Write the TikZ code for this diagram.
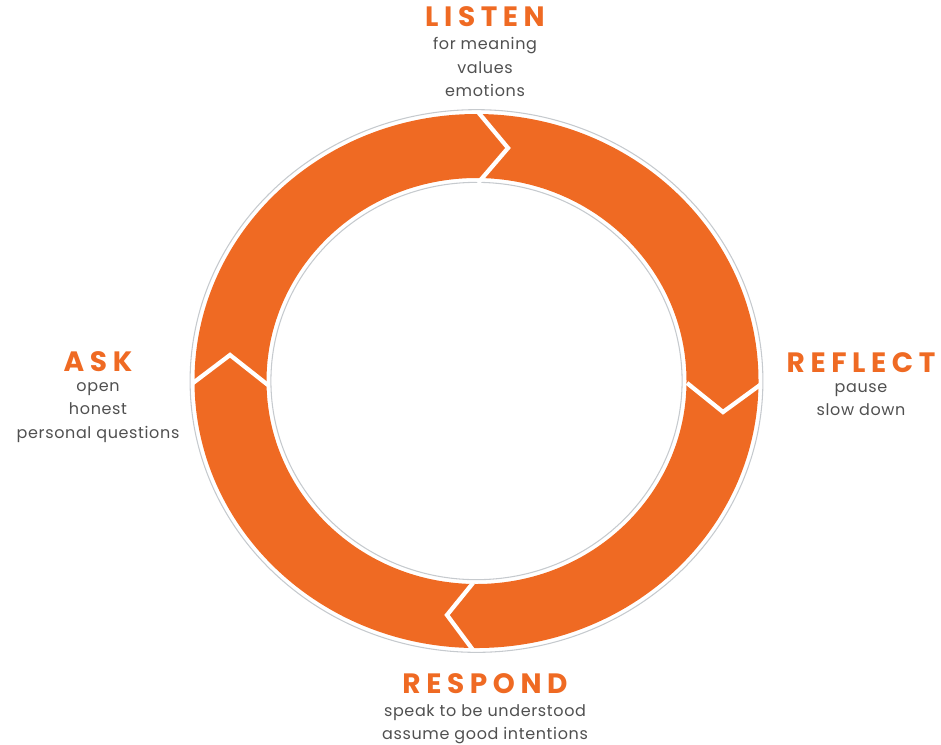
\documentclass[tikz,border=0pt]{standalone}
\usepackage{fontspec}
\setmainfont{Poppins}
\usetikzlibrary{positioning}

\definecolor{ringorange}{HTML}{EF6A23}
\definecolor{notegray}{HTML}{505050}
\definecolor{rimgray}{HTML}{C6CACE}

\begin{document}
\begin{tikzpicture}[x=0.75pt, y=-0.75pt, node distance=7.5pt,
  stage/.style={font=\fontsize{21}{21}\selectfont\bfseries\addfontfeatures{LetterSpace=20}, text=ringorange, inner sep=0pt},
  note/.style={font=\fontsize{12}{17.5}\selectfont\addfontfeatures{LetterSpace=4}, text=notegray, align=center, inner sep=0pt, execute at begin node=\strut},
  notch/.style={white, line width=3.2pt, line join=miter}]
\useasboundingbox (0,0) rectangle (941,744);

% the ring with a thin rim on both sides
\fill[ringorange, even odd rule] (476.5,381) ellipse [x radius=211.5pt, y radius=200.25pt]
  (476.5,381) ellipse [x radius=157.5pt, y radius=152.25pt];
\draw[rimgray, line width=0.8pt] (476.5,381) ellipse [x radius=214.8pt, y radius=203.5pt];
\draw[rimgray, line width=0.8pt] (476.5,381) ellipse [x radius=154.2pt, y radius=149pt];

% chevron cuts between the four parts
\draw[notch] (478,112) -- (508,148) -- (478,183);
\draw[notch] (687,383) -- (723,412) -- (760,385);
\draw[notch] (473,650) -- (447,615) -- (473,583);
\draw[notch] (193,383) -- (230,355) -- (268,385);

% stage names and notes
\node[stage] (listen) at (485,17) {LISTEN};
\node[note, below=of listen] (listen-n) {for meaning\\values\\emotions};
\node[stage] (reflect) at (861,363) {REFLECT};
\node[note, below=of reflect] (reflect-n) {pause\\slow down};
\node[stage] (respond) at (485,684) {RESPOND};
\node[note, below=of respond] (respond-n) {speak to be understood\\assume good intentions};
\node[stage] (ask) at (98,362) {ASK};
\node[note, below=of ask] (ask-n) {open\\honest\\personal questions};
\end{tikzpicture}
\end{document}
